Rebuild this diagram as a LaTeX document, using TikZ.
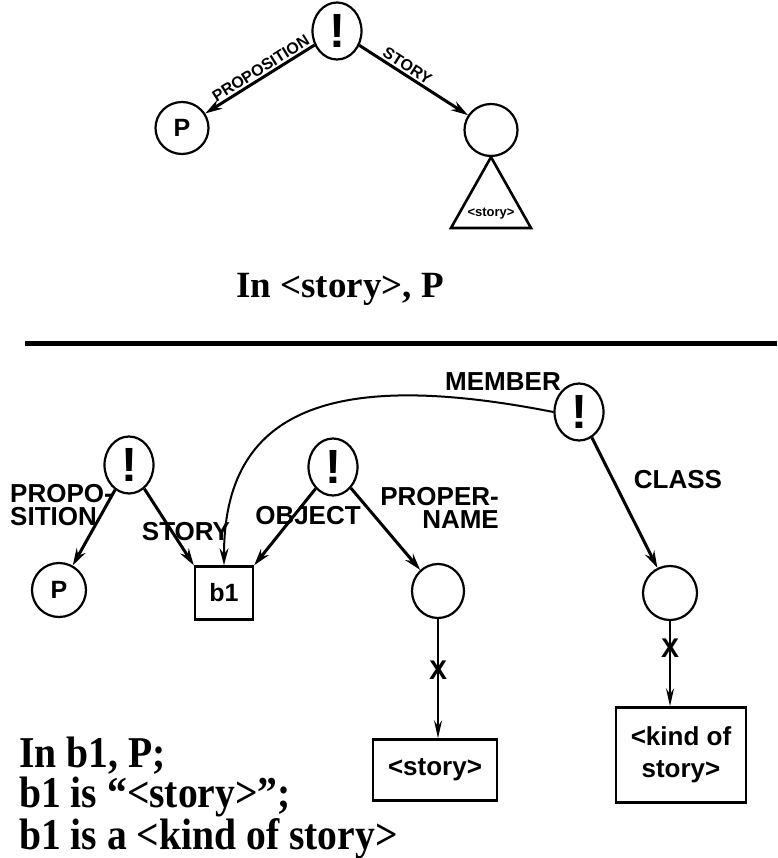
\documentclass[tikz,border=0pt]{standalone}
\usepackage{fontspec}
\setmainfont{Liberation Serif}
\newfontfamily\labfont{Liberation Sans}
\usetikzlibrary{shapes.geometric,arrows.meta}
\tikzset{
  circ/.style={draw, line width=2.2pt, ellipse, minimum width=53pt, minimum height=52pt, inner sep=0pt, font=\labfont\bfseries\fontsize{25}{25}\selectfont},
  bang/.style={draw, line width=2.2pt, ellipse, minimum width=49pt, minimum height=57pt, inner sep=0pt, font=\labfont\bfseries\fontsize{48}{48}\selectfont},
  boxnode/.style={draw, line width=2.4pt, rectangle, inner sep=0pt, align=center, font=\labfont\bfseries\fontsize{26}{32}\selectfont},
  arr/.style={line width=3pt, -{Stealth[length=17pt,width=10pt]}},
  varr/.style={line width=1.6pt, -{Stealth[length=18pt,width=8pt]}},
  toplab/.style={font=\labfont\bfseries\fontsize{16}{16}\selectfont, inner sep=1.5pt},
  lab/.style={font=\labfont\bfseries\fontsize{26}{23}\selectfont, inner sep=0pt},
  xmark/.style={font=\labfont\bfseries\fontsize{27}{27}\selectfont, inner sep=0pt},
  capt/.style={font=\bfseries\fontsize{37}{37}\selectfont, inner sep=0pt},
}
\begin{document}
\begin{tikzpicture}[x=1pt,y=-1pt]
\useasboundingbox (0,0) rectangle (777,858);
% ---------- top diagram
\node[bang] (t0) at (337,31) {!};
\node[circ] (tp) at (182,128) {P};
\node[circ] (ts) at (491,130) {};
\coordinate (tri1) at (451,228);
\coordinate (tri2) at (531,228);
\draw[line width=2.6pt, line join=miter] (ts.south) -- (tri1) -- (tri2) -- cycle;
\node[font=\labfont\bfseries\fontsize{13}{13}\selectfont, inner sep=0pt] (trit) at (491,214) {<story>};
\draw[arr] (t0) -- node[toplab, pos=0.45, above, sloped] {PROPOSITION} (tp);
\draw[arr] (t0) -- node[toplab, pos=0.4, above, sloped] {STORY} (ts);
\node[capt, anchor=base] (cap1) at (340,297) {In <story>, P};
% ---------- rule
\coordinate (r1) at (25,343);
\coordinate (r2) at (777,343);
\draw[line width=5pt] (r1) -- (r2);
% ---------- bottom diagram
\node[bang] (b0) at (129,465) {!};
\node[bang] (b2) at (333,467) {!};
\node[bang] (bm) at (579,412) {!};
\node[circ, minimum width=54pt, minimum height=54pt] (bp) at (59,590) {P};
\node[boxnode, minimum width=58pt, minimum height=53pt, font=\labfont\bfseries\fontsize{25}{25}\selectfont] (b1) at (224,593) {b1};
\node[circ, minimum width=52pt, minimum height=54pt] (bn) at (438,591) {};
\node[circ, minimum width=54pt, minimum height=54pt] (bc) at (670,593) {};
\node[boxnode, minimum width=124pt, minimum height=61pt] (bs) at (435,770) {<story>};
\node[boxnode, minimum width=130pt, minimum height=95pt] (bk) at (681,755) {<kind of\\story>};
\draw[arr] (b0) -- (bp);
\node[lab, anchor=west, align=left] (lprop) at (10,505) {PROPO-\\SITION};
\draw[arr] (b0) -- (b1.north west);
\node[lab] (lstory) at (186,532) {STORY};
\draw[arr] (b2) -- (b1.north east);
\node[lab] (lobj) at (308,516) {OBJECT};
\draw[arr] (b2) -- (bn);
\node[lab, anchor=east, align=right] (lpn) at (499,508) {PROPER-\\NAME\hspace{6pt}};
\draw[arr] (bm) -- (bc);
\node[lab] (lclass) at (678,480) {CLASS};
\draw[line width=2pt, -{Stealth[length=17pt,width=9pt]}] (bm.west) .. controls (330,368) and (224,410) .. (b1.north);
\node[lab] (lmem) at (503,382) {MEMBER};
\draw[varr] (bn.south) -- node[xmark, pos=0.43] {X} (bn.south |- bs.north);
\draw[varr] (bc.south) -- node[xmark, pos=0.32] {X} (bc.south |- bk.north);
\node[anchor=north west, align=left, font=\bfseries\fontsize{44}{40}\selectfont, inner sep=0pt, xscale=0.9] (cap2) at (19,737) {In b1, P;\\b1 is “<story>”;\\b1 is a <kind of story>};
\end{tikzpicture}
\end{document}
